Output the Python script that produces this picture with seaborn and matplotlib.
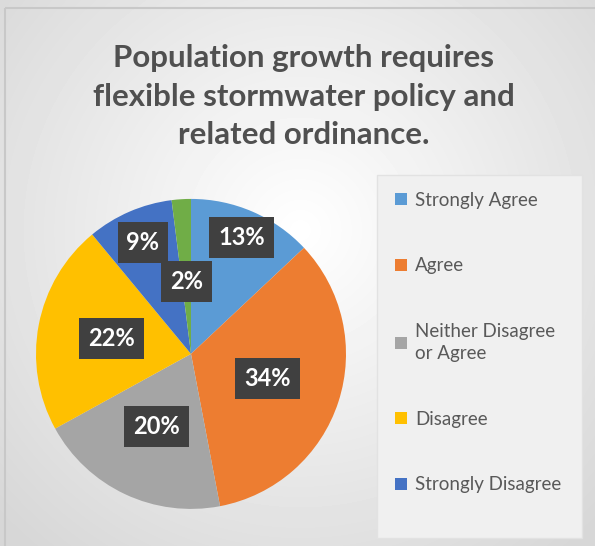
import numpy as np
import matplotlib
matplotlib.use("Agg")
import matplotlib.pyplot as plt
import seaborn as sns
from matplotlib.patches import Patch, Rectangle

# ------------------------------------------------------------
# Data
# ------------------------------------------------------------
categories = ["Strongly Agree", "Agree", "Neither Disagree\nor Agree",
              "Disagree", "Strongly Disagree", "Other"]
shares = [13, 34, 20, 22, 9, 2]
legend_count = 5  # green slice is not listed in the legend
title = "Population growth requires\nflexible stormwater policy and\nrelated ordinance."

colors = ["#5B9BD5", "#ED7D31", "#A5A5A5", "#FFC000", "#4472C4", "#70AD47"]
label_radius = [0.82, 0.52, 0.52, 0.52, 0.78, 0.47]

sns.set_style("white")
plt.rcParams["font.family"] = ["Lato", "DejaVu Sans"]

fig = plt.figure(figsize=(5.95, 5.46), dpi=100)

# background: soft radial gradient inside a thin frame
bg = fig.add_axes([0, 0, 1, 1], zorder=-10)
bg.set_axis_off()
yy, xx = np.mgrid[0:546, 0:595]
dist = np.sqrt(((xx - 300) / 420.0) ** 2 + ((yy - 230) / 420.0) ** 2)
shade = np.clip(1.0 - 0.16 * dist, 0.84, 1.0)
bg.imshow(shade, cmap="gray", vmin=0, vmax=1, extent=[0, 595, 546, 0], aspect="auto")
bg.add_patch(Rectangle((5, 8), 600, 560, fill=False, edgecolor="#c8c8c8", lw=1.5))
bg.add_patch(Rectangle((377, 175), 205, 363, facecolor="#f0f0f0",
                       edgecolor="#e2e2e2", lw=1.0))
bg.set_xlim(0, 595)
bg.set_ylim(546, 0)

fig.text(0.51, 0.823, title, ha="center", va="center", fontsize=22.5,
         fontweight="bold", color="#505050", linespacing=1.45)

# ------------------------------------------------------------
# Pie
# ------------------------------------------------------------
ax = fig.add_axes([0.0605, 0.0678, 0.521, 0.568])
wedges, _ = ax.pie(shares, colors=colors, startangle=90, counterclock=False,
                   wedgeprops=dict(linewidth=0))
ax.set_xlim(-1, 1)
ax.set_ylim(-1, 1)
ax.set_aspect("equal")

total = float(sum(shares))
start = 90.0
for val, r in zip(shares, label_radius):
    sweep = 360.0 * val / total
    mid = np.deg2rad(start - sweep / 2)
    start -= sweep
    ax.text(r * np.cos(mid), r * np.sin(mid), f"{val}%", ha="center", va="center",
            fontsize=17, fontweight="bold", color="white",
            bbox=dict(boxstyle="square,pad=0.38", facecolor="#404040",
                      edgecolor="none"))

# ------------------------------------------------------------
# Legend
# ------------------------------------------------------------
handles = [Patch(facecolor=c, edgecolor="none") for c in colors[:legend_count]]
fig.legend(handles, categories[:legend_count], loc="upper left",
           bbox_to_anchor=(0.635, 0.68), frameon=False, fontsize=13.5,
           labelcolor="#595959", handlelength=0.65, handleheight=0.65,
           handletextpad=0.45, labelspacing=2.6)
plt.setp(fig.legends[0].get_texts(), linespacing=1.35)

fig.savefig("out.png", dpi=100)
